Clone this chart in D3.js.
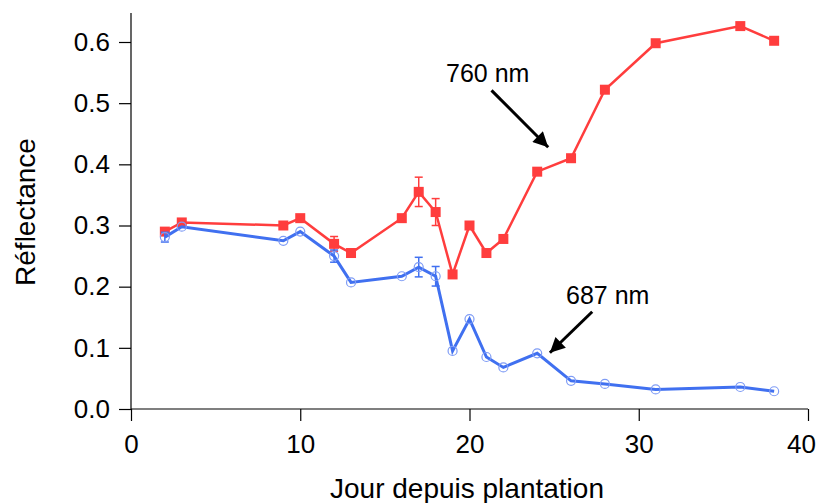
<!DOCTYPE html>
<html><head><meta charset="utf-8">
<script src="https://cdn.jsdelivr.net/npm/d3@7"></script>
<style>body{margin:0;background:#fff}svg{display:block}text{font-family:"Liberation Sans",Arial,sans-serif}</style>
</head><body><svg id="c" width="821" height="503"></svg>
<script>
const days = [2,3,9,10,12,13,16,17,18,19,20,21,22,24,26,28,31,36,38];
const r760 = [0.290,0.305,0.300,0.312,0.270,0.255,0.312,0.355,0.322,0.220,0.300,0.255,0.278,0.388,0.410,0.522,0.598,0.626,0.602];
const r687 = [0.281,0.298,0.275,0.290,0.250,0.207,0.217,0.232,0.217,0.095,0.147,0.085,0.068,0.091,0.046,0.041,0.032,0.036,0.029];
const err760 = [0.004,0,0,0,0.012,0,0,0.024,0.022,0,0,0,0,0,0,0,0,0,0];
const err687 = [0.008,0,0,0,0.010,0,0,0.016,0.016,0,0,0,0,0,0,0,0,0,0];
const xTicks = [0,10,20,30,40];
const yTicks = [0,0.1,0.2,0.3,0.4,0.5,0.6];
const labels = {x:"Jour depuis plantation", y:"Réflectance", a760:"760 nm", a687:"687 nm"};

const svg = d3.select("#c");
const x = d3.scaleLinear().domain([0,40]).range([131,808]);
const y = d3.scaleLinear().domain([0,0.6]).range([409,42]);

svg.append("defs").append("marker").attr("id","ah").attr("viewBox","0 0 10 10")
  .attr("refX",10).attr("refY",5).attr("markerWidth",6).attr("markerHeight",5)
  .attr("markerUnits","strokeWidth").attr("orient","auto")
  .append("path").attr("d","M0,0L10,5L0,10Z").attr("fill","#000");

const yAx = svg.append("g").attr("transform","translate(131,0)")
  .call(d3.axisLeft(y).tickValues(yTicks).tickFormat(d3.format(".1f")).tickSize(12).tickPadding(9));
yAx.select(".domain").attr("d","M0,13V409");
const xAx = svg.append("g").attr("transform","translate(0,409)")
  .call(d3.axisBottom(x).tickValues(xTicks).tickFormat(d3.format("d")).tickSize(12).tickPadding(14));
xAx.select(".domain").attr("d","M131,0H808");
svg.selectAll(".tick text").attr("font-size",26).attr("fill","#000").style("font-family","'Liberation Sans',Arial,sans-serif");
xAx.selectAll(".tick text").filter(d=>d===40).attr("dx",-7);
svg.selectAll(".domain, .tick line").attr("stroke","#000").attr("stroke-width",1.2);

svg.append("text").attr("x",467).attr("y",498).attr("text-anchor","middle").attr("font-size",28).text(labels.x);
svg.append("text").attr("transform","translate(35,212) rotate(-90)").attr("text-anchor","middle").attr("font-size",28).text(labels.y);

function series(vals, errs, color, marker, lw){
  const g = svg.append("g");
  const pts = days.map((d,i)=>({d, v:vals[i], e:errs[i]}));
  g.append("path").datum(pts).attr("fill","none").attr("stroke",color).attr("stroke-width",lw)
    .attr("d", d3.line().x(p=>x(p.d)).y(p=>y(p.v)));
  const eb = g.selectAll(".eb").data(pts.filter(p=>p.e>0)).enter().append("g").attr("stroke",color).attr("stroke-width",1.5);
  eb.append("line").attr("x1",p=>x(p.d)).attr("x2",p=>x(p.d)).attr("y1",p=>y(p.v-p.e)).attr("y2",p=>y(p.v+p.e));
  eb.append("line").attr("x1",p=>x(p.d)-4).attr("x2",p=>x(p.d)+4).attr("y1",p=>y(p.v+p.e)).attr("y2",p=>y(p.v+p.e));
  eb.append("line").attr("x1",p=>x(p.d)-4).attr("x2",p=>x(p.d)+4).attr("y1",p=>y(p.v-p.e)).attr("y2",p=>y(p.v-p.e));
  if(marker==="square"){
    g.selectAll(".m").data(pts).enter().append("rect")
      .attr("x",p=>x(p.d)-5).attr("y",p=>y(p.v)-5).attr("width",10).attr("height",10).attr("fill",color);
  } else {
    g.selectAll(".m").data(pts).enter().append("circle")
      .attr("cx",p=>x(p.d)).attr("cy",p=>y(p.v)).attr("r",4.5).attr("fill","none").attr("stroke","#7f9cf5").attr("stroke-width",1.2);
  }
}
series(r760, err760, "#ff3d3d", "square", 2.5);
series(r687, err687, "#4070f0", "circle", 3);

svg.append("text").attr("x",446).attr("y",82).attr("font-size",25).text(labels.a760);
svg.append("line").attr("x1",x(21.3)).attr("y1",y(0.521)).attr("x2",x(24.65)).attr("y2",y(0.428))
  .attr("stroke","#000").attr("stroke-width",3).attr("marker-end","url(#ah)");
svg.append("text").attr("x",566).attr("y",304).attr("font-size",25).text(labels.a687);
svg.append("line").attr("x1",x(27.25)).attr("y1",y(0.159)).attr("x2",x(24.75)).attr("y2",y(0.092))
  .attr("stroke","#000").attr("stroke-width",3).attr("marker-end","url(#ah)");
</script></body></html>
